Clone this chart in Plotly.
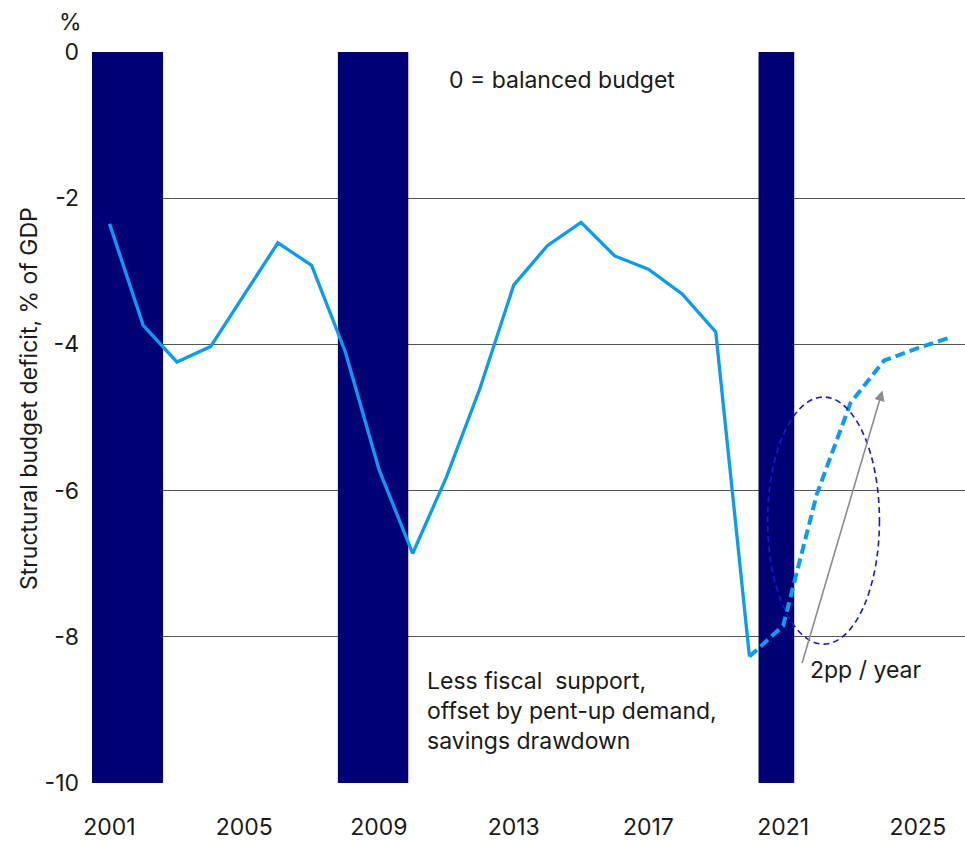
import plotly.graph_objects as go

# Structural budget balance, % of GDP
hist_years = list(range(2001, 2021))
hist_values = [-2.35, -3.74, -4.24, -4.03, -3.32, -2.61, -2.92, -4.10, -5.71, -6.86,
               -5.82, -4.60, -3.19, -2.65, -2.33, -2.79, -2.97, -3.31, -3.83, -8.27]

proj_years = [2020, 2021, 2022, 2023, 2024, 2025, 2026]
proj_values = [-8.27, -7.85, -6.05, -4.80, -4.22, -4.05, -3.90]

# Recession periods (fractional years)
recession_start = [2000.48, 2007.78, 2020.27]
recession_end = [2002.59, 2009.87, 2021.33]

x_ticks = [2001, 2005, 2009, 2013, 2017, 2021, 2025]
y_ticks = [0, -2, -4, -6, -8, -10]
y_tick_labels = ["0", "-2", "-4", "-6", "-8", "-10"]

FONT = "Inter"
FS = 23
TXT = "#1a1a1a"
LINE = "#0a9bf5"
NAVY = "#000075"

W, H = 965, 841
PL, PR, PT, PB = 92, 965, 52, 787


def px_to_paper(px, py):
    return (px - PL) / (PR - PL), (PB - py) / (PB - PT)


fig = go.Figure()

fig.add_trace(go.Scatter(
    x=hist_years, y=hist_values, mode="lines",
    line=dict(color=LINE, width=3.3), showlegend=False, hoverinfo="skip"))

fig.add_trace(go.Scatter(
    x=proj_years, y=proj_values, mode="lines",
    line=dict(color=LINE, width=4, dash="10px,5px"), showlegend=False, hoverinfo="skip"))

for s, e in zip(recession_start, recession_end):
    fig.add_shape(type="rect", xref="x", yref="y", x0=s, x1=e, y0=-10, y1=0,
                  fillcolor=NAVY, line=dict(width=0), layer="between")

# dashed ellipse around the projected recovery
fig.add_shape(type="circle", xref="x", yref="y", x0=2020.54, x1=2023.86, y0=-8.10, y1=-4.72,
              line=dict(color="#1a1acc", width=1.6, dash="6px,4px"), layer="above")

# trend arrow
fig.add_annotation(x=2023.95, y=-4.63, ax=2021.55, ay=-8.38, xref="x", yref="y",
                   axref="x", ayref="y", text="", showarrow=True,
                   arrowhead=2, arrowsize=1.3, arrowwidth=1.6, arrowcolor="#8c8c8c")

notes = [
    ("2pp / year", 808, 673),
    ("0 = balanced budget", 447, 80),
    ("Less fiscal  support,<br>offset by pent-up demand,<br>savings drawdown", 425, 715),
]

for text, px, py in notes:
    xp, yp = px_to_paper(px, py)
    fig.add_annotation(x=xp, y=yp, xref="paper", yref="paper", text=text, showarrow=False,
                       xanchor="left", yanchor="middle", align="left",
                       font=dict(family=FONT, size=FS, color=TXT))

xp, yp = px_to_paper(70, 22)
fig.add_annotation(x=xp, y=yp, xref="paper", yref="paper", text="%", showarrow=False,
                   xanchor="center", yanchor="middle", font=dict(family=FONT, size=FS, color=TXT))

xp, yp = px_to_paper(29, 401)
fig.add_annotation(x=xp, y=yp, xref="paper", yref="paper", text="Structural budget deficit, % of GDP",
                   showarrow=False, textangle=-90, xanchor="center", yanchor="middle",
                   font=dict(family=FONT, size=FS, color=TXT))

fig.update_layout(
    width=W, height=H,
    margin=dict(l=PL, r=W - PR, t=PT, b=H - PB),
    paper_bgcolor="white", plot_bgcolor="white",
    font=dict(family=FONT, size=FS, color=TXT),
    xaxis=dict(range=[2000.48, 2026.4], tickvals=x_ticks, ticktext=[str(v) for v in x_ticks],
               showgrid=False, zeroline=False, showline=False, ticks="",
               ticklabelstandoff=28, tickfont=dict(family=FONT, size=FS, color=TXT)),
    yaxis=dict(range=[-10, 0], tickvals=y_ticks, ticktext=y_tick_labels,
               showgrid=True, gridcolor="#555555",
               gridwidth=1.2, zeroline=False, showline=False, ticks="",
               ticklabelstandoff=12, tickfont=dict(family=FONT, size=FS, color=TXT)),
)

fig.write_html("out.html")
